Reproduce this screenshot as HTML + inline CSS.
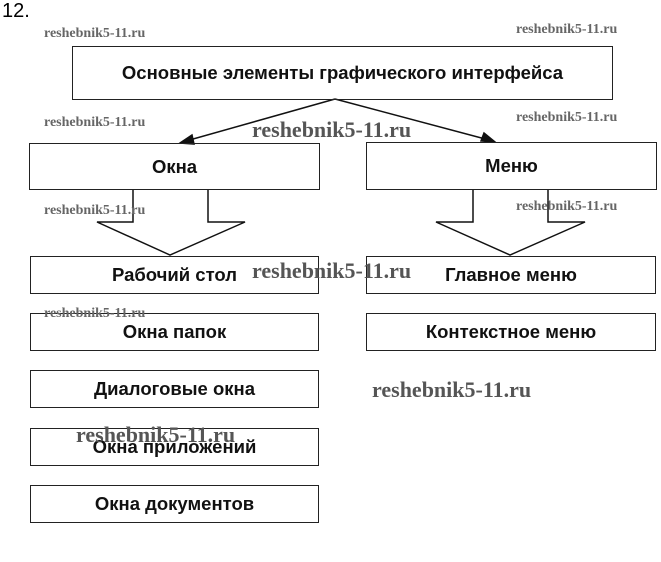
<!DOCTYPE html>
<html><head><meta charset="utf-8"><style>
body{margin:0;background:#fff;width:661px;height:562px;overflow:hidden;position:relative;font-family:"Liberation Sans",sans-serif}
.b{position:absolute;border:1.5px solid #222;box-sizing:border-box;display:flex;align-items:center;justify-content:center;font-weight:bold;font-size:18.5px;color:#111}
.w{position:absolute;font-family:"Liberation Serif",serif;font-weight:bold;color:#666;font-size:14px}
.W{position:absolute;font-family:"Liberation Serif",serif;font-weight:bold;color:#555;font-size:22px}
</style></head><body>
<div style="position:absolute;left:2px;top:0;font-size:20px">12.</div>
<svg width="661" height="562" style="position:absolute;left:0;top:0" fill="none" stroke="#111" stroke-width="1.5">
<line x1="335" y1="99" x2="186" y2="141"/><polygon points="180,143 192,135 194,144" fill="#111"/>
<line x1="335" y1="99" x2="489" y2="140"/><polygon points="495,142 481,141 484,133" fill="#111"/>
<polyline points="133,190 133,222 97,222 170,255 245,222 208,222 208,190"/>
<polyline points="473,190 473,222 436,222 510,255 585,222 548,222 548,190"/>
</svg>
<div class="b" style="left:72px;top:46px;width:541px;height:54px">Основные элементы графического интерфейса</div>
<div class="b" style="left:29px;top:143px;width:291px;height:47px">Окна</div>
<div class="b" style="left:366px;top:142px;width:291px;height:48px">Меню</div>
<div class="b" style="left:30px;top:256px;width:289px;height:38px">Рабочий стол</div>
<div class="b" style="left:366px;top:256px;width:290px;height:38px">Главное меню</div>
<div class="b" style="left:366px;top:313px;width:290px;height:38px">Контекстное меню</div>
<div class="b" style="left:30px;top:313px;width:289px;height:38px">Окна папок</div>
<div class="b" style="left:30px;top:370px;width:289px;height:38px">Диалоговые окна</div>
<div class="b" style="left:30px;top:428px;width:289px;height:38px">Окна приложений</div>
<div class="b" style="left:30px;top:485px;width:289px;height:38px">Окна документов</div>
<div class="w" style="left:44px;top:26px">reshebnik5-11.ru</div>
<div class="w" style="left:516px;top:22px">reshebnik5-11.ru</div>
<div class="w" style="left:44px;top:115px">reshebnik5-11.ru</div>
<div class="w" style="left:516px;top:110px">reshebnik5-11.ru</div>
<div class="w" style="left:44px;top:203px">reshebnik5-11.ru</div>
<div class="w" style="left:516px;top:199px">reshebnik5-11.ru</div>
<div class="w" style="left:44px;top:306px">reshebnik5-11.ru</div>
<div class="W" style="left:252px;top:117px">reshebnik5-11.ru</div>
<div class="W" style="left:252px;top:258px">reshebnik5-11.ru</div>
<div class="W" style="left:372px;top:377px">reshebnik5-11.ru</div>
<div class="W" style="left:76px;top:422px">reshebnik5-11.ru</div>
</body></html>
